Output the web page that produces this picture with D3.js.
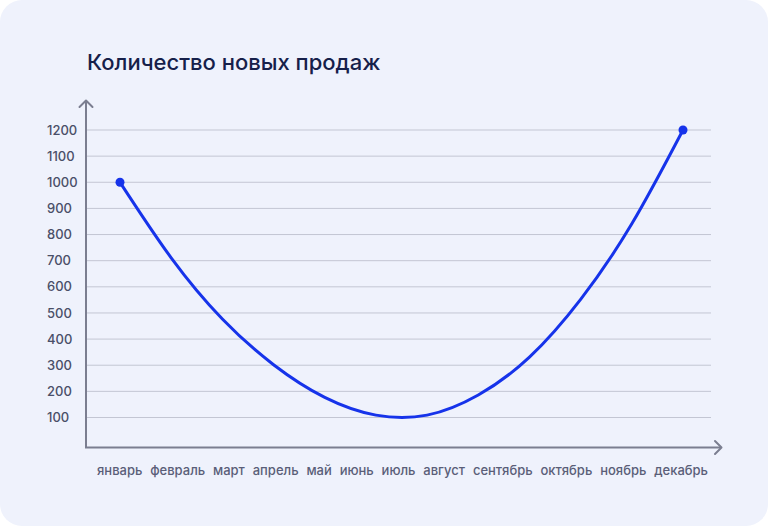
<!DOCTYPE html>
<html>
<head>
<meta charset="utf-8">
<script src="https://cdn.jsdelivr.net/npm/d3@7"></script>
<style>
  html, body { margin: 0; padding: 0; background: #ffffff; }
  svg { display: block; }
</style>
</head>
<body>
<svg id="chart" width="768" height="526"></svg>
<script>
const title = "Количество новых продаж";
const months = ["январь", "февраль", "март", "апрель", "май", "июнь", "июль", "август", "сентябрь", "октябрь", "ноябрь", "декабрь"];
const sales = [1000, 711, 477, 302, 177, 109, 109, 186, 331, 552, 841, 1200];
const yTicks = [100, 200, 300, 400, 500, 600, 700, 800, 900, 1000, 1100, 1200];

const W = 768, H = 526;
const svg = d3.select("#chart");
const font = "Inter, 'Noto Sans', sans-serif";

// card background
svg.append("rect").attr("x", 0).attr("y", 0).attr("width", W).attr("height", H)
  .attr("rx", 22).attr("fill", "#eff2fc");

// title
svg.append("text").attr("x", 87).attr("y", 70)
  .attr("font-family", font).attr("font-size", 22).attr("font-weight", 500)
  .attr("fill", "#16204a").text(title);

const axisX = 86, axisY = 447.5;
const x = d3.scaleLinear().domain([0, months.length - 1]).range([120, 683]);
const y = d3.scaleLinear().domain([100, 1200]).range([417.5, 130]);

// gridlines
svg.append("g").selectAll("line").data(yTicks).join("line")
  .attr("x1", axisX).attr("x2", 711)
  .attr("y1", d => y(d)).attr("y2", d => y(d))
  .attr("stroke", "#c3c6d3").attr("stroke-width", 1);

// y labels
svg.append("g").selectAll("text").data(yTicks).join("text")
  .attr("x", 47).attr("y", d => y(d)).attr("dy", "0.35em")
  .attr("font-family", font).attr("font-size", 13).attr("font-weight", 500)
  .attr("fill", "#4a4f68").text(d => d);

// axes with arrows
const axisColor = "#7b7e90";
svg.append("line").attr("x1", axisX).attr("x2", axisX).attr("y1", axisY).attr("y2", 101)
  .attr("stroke", axisColor).attr("stroke-width", 2);
svg.append("path").attr("d", `M${axisX - 6.5},${107} L${axisX},${100.5} L${axisX + 6.5},${107}`)
  .attr("fill", "none").attr("stroke", axisColor).attr("stroke-width", 2).attr("stroke-linecap", "round").attr("stroke-linejoin", "round");
svg.append("line").attr("x1", axisX - 1).attr("x2", 721).attr("y1", axisY).attr("y2", axisY)
  .attr("stroke", axisColor).attr("stroke-width", 2);
svg.append("path").attr("d", `M${715},${axisY - 6.5} L${721.5},${axisY} L${715},${axisY + 6.5}`)
  .attr("fill", "none").attr("stroke", axisColor).attr("stroke-width", 2).attr("stroke-linecap", "round").attr("stroke-linejoin", "round");

// x labels laid out as a flowing row
const lab = svg.append("g").selectAll("text").data(months).join("text")
  .attr("y", 474.5)
  .attr("font-family", font).attr("font-size", 13).attr("font-weight", 500)
  .attr("fill", "#5a5e78").text(d => d);
const widths = [];
lab.each(function() { widths.push(this.getComputedTextLength()); });
const startX = 97, endX = 708;
const gap = (endX - startX - d3.sum(widths)) / (months.length - 1);
let cx = startX;
lab.attr("x", (d, i) => { const v = cx; cx += widths[i] + gap; return v; });

// line
const line = d3.line().x((d, i) => x(i)).y(d => y(d)).curve(d3.curveNatural);
svg.append("path").datum(sales).attr("d", line)
  .attr("fill", "none").attr("stroke", "#1633ea").attr("stroke-width", 3)
  .attr("stroke-linecap", "round");

// end dots
const ends = [0, sales.length - 1];
svg.append("g").selectAll("circle").data(ends).join("circle")
  .attr("cx", i => x(i)).attr("cy", i => y(sales[i])).attr("r", 4.5)
  .attr("fill", "#1633ea");
</script>
</body>
</html>
